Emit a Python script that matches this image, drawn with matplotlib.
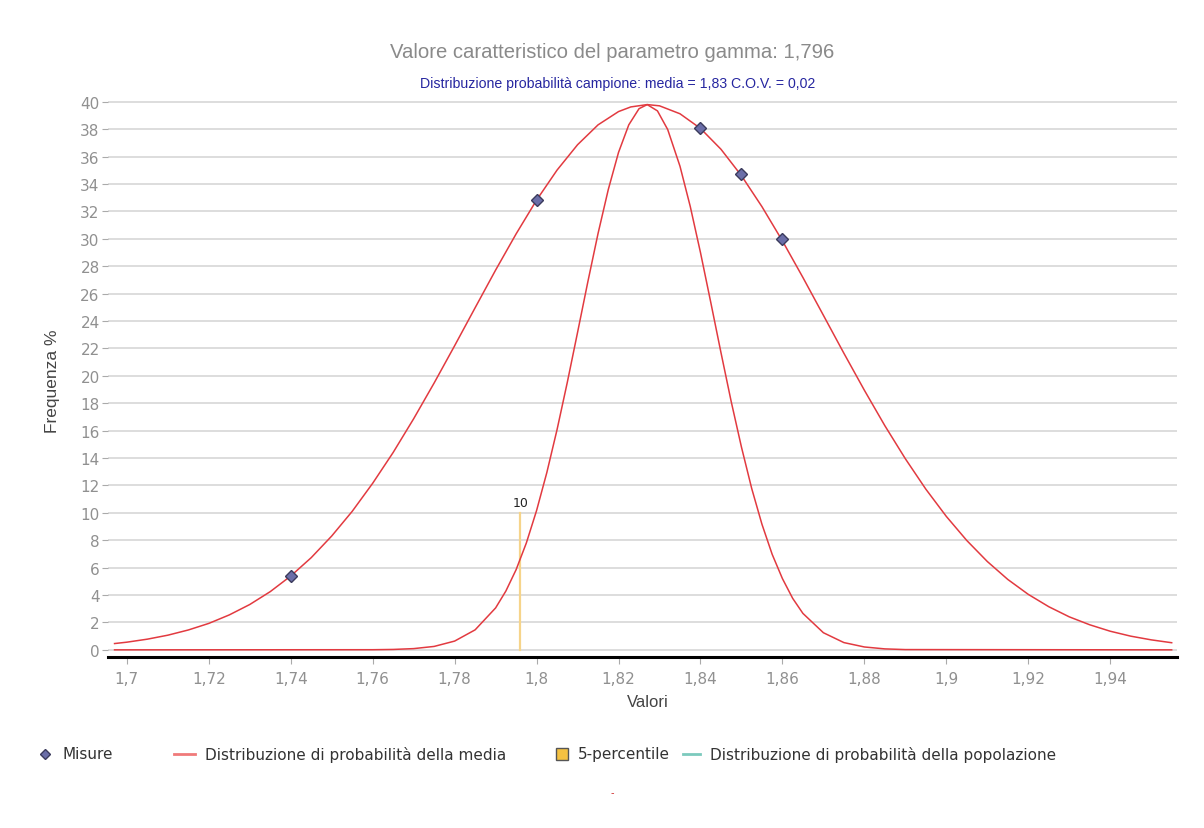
import matplotlib.pyplot as plt
from matplotlib.lines import Line2D

# --- dati ---
misure_x = [1.74, 1.80, 1.84, 1.85, 1.86]
misure_y = [5.4, 32.8, 38.1, 34.7, 30.0]

# distribuzione larga (passa per le misure)
larga_x = [1.697, 1.70, 1.705, 1.71, 1.715, 1.72, 1.725, 1.73, 1.735, 1.74, 1.745,
           1.75, 1.755, 1.76, 1.765, 1.77, 1.775, 1.78, 1.785, 1.79, 1.795,
           1.80, 1.805, 1.81, 1.815, 1.82, 1.823, 1.827, 1.83, 1.835, 1.84, 1.845,
           1.85, 1.855, 1.86, 1.865, 1.87, 1.875, 1.88, 1.885, 1.89, 1.895,
           1.90, 1.905, 1.91, 1.915, 1.92, 1.925, 1.93, 1.935, 1.94, 1.945, 1.95, 1.955]
larga_y = [0.46, 0.56, 0.78, 1.07, 1.45, 1.93, 2.55, 3.31, 4.25, 5.39, 6.73,
           8.31, 10.11, 12.16, 14.41, 16.87, 19.48, 22.2, 24.97, 27.72, 30.36,
           32.83, 35.02, 36.87, 38.32, 39.29, 39.63, 39.8, 39.71, 39.13, 38.06, 36.54,
           34.61, 32.35, 29.85, 27.18, 24.42, 21.65, 18.95, 16.36, 13.95, 11.73,
           9.74, 7.98, 6.45, 5.14, 4.05, 3.15, 2.41, 1.83, 1.36, 1.00, 0.73, 0.52]

# distribuzione stretta (della media)
stretta_x = [1.697, 1.76, 1.765, 1.77, 1.775, 1.78, 1.785, 1.79, 1.7925, 1.795, 1.7975,
             1.80, 1.8025, 1.805, 1.8075, 1.81, 1.8125, 1.815, 1.8175, 1.82, 1.8225,
             1.825, 1.827, 1.8295, 1.832, 1.835, 1.8375, 1.84, 1.8425, 1.845, 1.8475,
             1.85, 1.8525, 1.855, 1.8575, 1.86, 1.8625, 1.865, 1.87, 1.875, 1.88,
             1.885, 1.89, 1.955]
stretta_y = [0.0, 0.01, 0.03, 0.09, 0.25, 0.64, 1.46, 3.06, 4.29, 5.85, 7.8,
             10.17, 12.94, 16.08, 19.53, 23.17, 26.85, 30.39, 33.6, 36.31, 38.32,
             39.5, 39.8, 39.34, 37.98, 35.3, 32.37, 29.0, 25.38, 21.7, 18.12,
             14.8, 11.78, 9.17, 6.97, 5.2, 3.76, 2.66, 1.25, 0.53, 0.21,
             0.07, 0.02, 0.0]

percentile_x = 1.796
percentile_h = 10

xticks = [1.70, 1.72, 1.74, 1.76, 1.78, 1.80, 1.82, 1.84, 1.86, 1.88, 1.90, 1.92, 1.94]
xtick_labels = ['1,7', '1,72', '1,74', '1,76', '1,78', '1,8', '1,82', '1,84',
                '1,86', '1,88', '1,9', '1,92', '1,94']
yticks = list(range(0, 41, 2))

legenda = ['Misure', 'Distribuzione di probabilità della media', '5-percentile',
           'Distribuzione di probabilità della popolazione']

rosso = '#e23a40'
giallo = '#f6d48a'
W, H = 1204, 829

fig = plt.figure(figsize=(12.04, 8.29), dpi=100)
ax = fig.add_axes([108/W, 1 - 657.7/H, 1069/W, 561.7/H])

ax.plot(larga_x, larga_y, color=rosso, lw=1.1, zorder=3)
ax.plot(stretta_x, stretta_y, color=rosso, lw=1.1, zorder=3)
ax.plot([percentile_x, percentile_x], [0, percentile_h], color=giallo, lw=1.6, zorder=2)
ax.text(percentile_x, percentile_h + 0.3, str(percentile_h), ha='center', va='bottom',
        fontsize=9, color='#222222')
ax.plot(misure_x, misure_y, linestyle='none', marker='D', markersize=6.5,
        markerfacecolor='#6b6ea8', markeredgecolor='#3b3b5c', markeredgewidth=1, zorder=4)

ax.set_xlim(1.6954, 1.9563)
ax.set_ylim(-0.5, 40.5)
ax.set_xticks(xticks)
ax.set_xticklabels(xtick_labels)
ax.set_yticks(yticks)
ax.grid(axis='y', color='#dadada', lw=1.3)
ax.set_axisbelow(True)
for s in ['top', 'right', 'left']:
    ax.spines[s].set_visible(False)
ax.spines['bottom'].set_linewidth(2.2)
ax.spines['bottom'].set_color('black')
ax.tick_params(axis='x', colors='#aaaaaa', labelcolor='#909090', labelsize=11, length=5, pad=5)
ax.tick_params(axis='y', colors='#aaaaaa', labelcolor='#909090', labelsize=11, length=4.5, pad=1.5)

fig.text(612/W, 1 - 53/H, 'Valore caratteristico del parametro gamma: 1,796',
         ha='center', va='center', fontsize=14.6, color='#8a8a8a', family='Liberation Sans')
fig.text(618/W, 1 - 84/H, 'Distribuzione probabilità campione: media = 1,83 C.O.V. = 0,02',
         ha='center', va='center', fontsize=10.2, color='#2626a0', family='Liberation Sans')
fig.text(648/W, 1 - 703/H, 'Valori', ha='center', va='center', fontsize=12,
         color='#444444', family='Liberation Sans')
fig.text(52/W, 1 - 381/H, 'Frequenza %', ha='center', va='center', rotation=90,
         fontsize=12.5, color='#444444', family='Liberation Sans')

# legenda disegnata a mano sotto il grafico
ly = 1 - 755/H
fig.add_artist(Line2D([45/W], [ly], marker='D', markersize=5, markerfacecolor='#6b6ea8',
                      markeredgecolor='#3b3b5c', linestyle='none'))
fig.add_artist(Line2D([174/W, 195/W], [ly, ly], color='#f07a7a', lw=2))
fig.add_artist(Line2D([562/W], [ly], marker='s', markersize=8, markerfacecolor='#f5c242',
                      markeredgecolor='#555555', linestyle='none'))
fig.add_artist(Line2D([683/W, 700/W], [ly, ly], color='#7ccabd', lw=2))
for xpos, testo in zip([62, 205, 578, 710], legenda):
    fig.text(xpos/W, ly, testo, ha='left', va='center', fontsize=11, color='#333333')

fig.text(612/W, 1 - 793/H, '-', ha='center', va='center', fontsize=7, color='#d03030')

fig.savefig('out.png', dpi=100)
